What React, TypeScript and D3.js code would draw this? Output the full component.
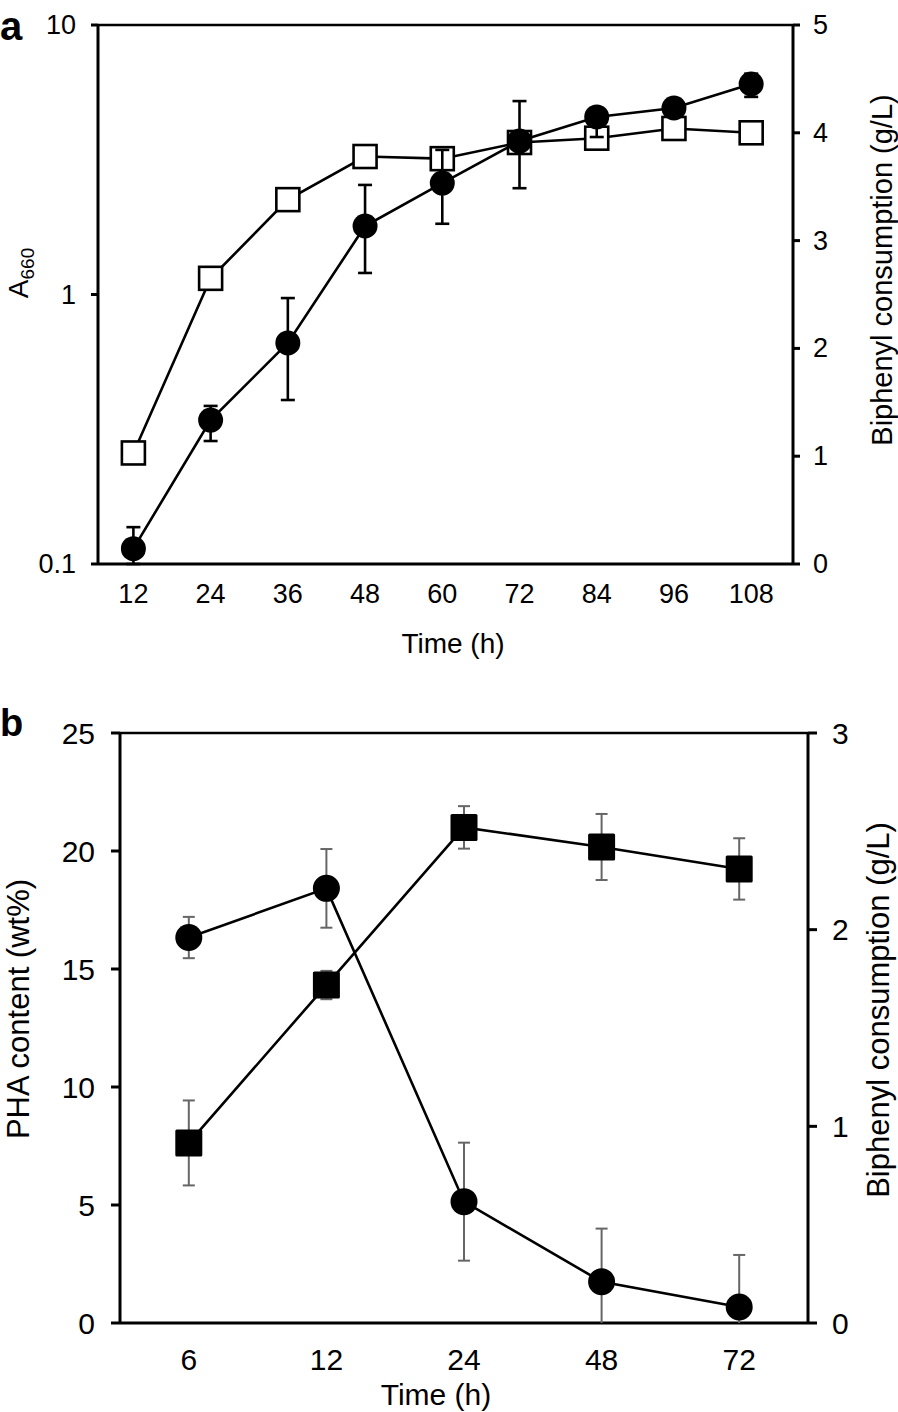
import React from "react";
import * as d3 from "d3";

// ---------- Panel a data ----------
const timesA = [12, 24, 36, 48, 60, 72, 84, 96, 108];
const timeTicksA = ["12", "24", "36", "48", "60", "72", "84", "96", "108"];
const a660 = [0.114, 0.342, 0.661, 1.795, 2.59, 3.71, 4.56, 4.92, 6.04];
const a660Upper = [0.137, 0.386, 0.97, 2.55, 3.44, 5.22, 4.9, 5.3, 6.6];
const a660Lower = [0.1, 0.286, 0.406, 1.202, 1.83, 2.48, 3.84, 4.6, 5.41];
const biphenylA = [1.03, 2.65, 3.38, 3.78, 3.76, 3.91, 3.95, 4.04, 4.0];
const leftTicksA = [0.1, 1, 10];
const leftTickLabelsA = ["0.1", "1", "10"];
const rightTicksA = [0, 1, 2, 3, 4, 5];

// ---------- Panel b data ----------
const timesB = ["6", "12", "24", "48", "72"];
const phaB = [7.63, 14.32, 21.0, 20.17, 19.24];
const phaErrB = [1.8, 0.6, 0.9, 1.4, 1.3];
const biphenylB = [1.96, 2.21, 0.617, 0.21, 0.081];
const biphenylErrB = [0.105, 0.2, 0.3, 0.27, 0.265];
const leftTicksB = [0, 5, 10, 15, 20, 25];
const rightTicksB = [0, 1, 2, 3];

const FONT = "'Liberation Sans', Arial, Helvetica, sans-serif";

function PanelA() {
  const L = 98, R = 793, T = 25, B = 564;
  const x = d3.scaleLinear().domain([6.5, 114.5]).range([L, R]);
  const yL = d3.scaleLog().domain([0.1, 10]).range([B, T]);
  const yR = d3.scaleLinear().domain([0, 5]).range([B, T]);
  const lineL = d3.line<number>().x((_, i) => x(timesA[i])).y((d) => yL(d));
  const lineR = d3.line<number>().x((_, i) => x(timesA[i])).y((d) => yR(d));
  const fs = 27;
  const cap = 7;
  const sq = 23;
  return (
    <g>
      <text x={0} y={40} fontFamily={FONT} fontWeight="bold" fontSize={40}>a</text>
      {/* frame */}
      <line x1={L} y1={T} x2={R} y2={T} stroke="#000" strokeWidth={2.5} />
      <line x1={L} y1={T} x2={L} y2={B} stroke="#000" strokeWidth={3} />
      <line x1={R} y1={T} x2={R} y2={B} stroke="#000" strokeWidth={3} />
      <line x1={L} y1={B} x2={R} y2={B} stroke="#000" strokeWidth={3} />
      {leftTicksA.map((t, i) => (
        <g key={"la" + i}>
          <line x1={L - 7} x2={L} y1={yL(t)} y2={yL(t)} stroke="#000" strokeWidth={3} />
          <text x={76} y={yL(t)} textAnchor="end" dominantBaseline="central" fontFamily={FONT} fontSize={fs}>{leftTickLabelsA[i]}</text>
        </g>
      ))}
      {rightTicksA.map((t, i) => (
        <g key={"ra" + i}>
          <line x1={R} x2={R + 7} y1={yR(t)} y2={yR(t)} stroke="#000" strokeWidth={3} />
          <text x={813} y={yR(t)} dominantBaseline="central" fontFamily={FONT} fontSize={fs}>{t}</text>
        </g>
      ))}
      {timesA.map((t, i) => (
        <text key={"xa" + i} x={x(t)} y={603} textAnchor="middle" fontFamily={FONT} fontSize={fs}>{timeTicksA[i]}</text>
      ))}
      <text x={453} y={653} textAnchor="middle" fontFamily={FONT} fontSize={28}>Time (h)</text>
      <text transform="translate(28,273) rotate(-90)" textAnchor="middle" fontFamily={FONT} fontSize={28}>
        A<tspan fontSize={19} dy={6}>660</tspan>
      </text>
      <text transform="translate(892,270) rotate(-90)" textAnchor="middle" fontFamily={FONT} fontSize={29}>Biphenyl consumption (g/L)</text>

      {/* squares: biphenyl consumption (right axis) */}
      <path d={lineR(biphenylA) || ""} fill="none" stroke="#000" strokeWidth={2.6} />
      {biphenylA.map((v, i) => (
        <rect key={"sa" + i} x={x(timesA[i]) - sq / 2} y={yR(v) - sq / 2} width={sq} height={sq} fill="#fff" stroke="#000" strokeWidth={2.6} />
      ))}
      {/* circles: A660 (left log axis) */}
      {a660.map((v, i) => {
        const cx = x(timesA[i]);
        const y1 = yL(a660Upper[i]);
        const y2 = Math.min(B, yL(a660Lower[i]));
        return (
          <g key={"ea" + i} stroke="#000" strokeWidth={2.6}>
            <line x1={cx} x2={cx} y1={y1} y2={y2} />
            <line x1={cx - cap} x2={cx + cap} y1={y1} y2={y1} />
            <line x1={cx - cap} x2={cx + cap} y1={y2} y2={y2} />
          </g>
        );
      })}
      <path d={lineL(a660) || ""} fill="none" stroke="#000" strokeWidth={2.6} />
      {a660.map((v, i) => (
        <circle key={"ca" + i} cx={x(timesA[i])} cy={yL(v)} r={12.5} fill="#000" />
      ))}
    </g>
  );
}

function PanelB() {
  const L = 120, R = 808, T = 733, B = 1323;
  const xb = d3.scaleBand<string>().domain(timesB).range([L, R]);
  const cx = (i: number) => (xb(timesB[i]) as number) + xb.bandwidth() / 2;
  const yL = d3.scaleLinear().domain([0, 25]).range([B, T]);
  const yR = d3.scaleLinear().domain([0, 3]).range([B, T]);
  const lineL = d3.line<number>().x((_, i) => cx(i)).y((d) => yL(d));
  const lineR = d3.line<number>().x((_, i) => cx(i)).y((d) => yR(d));
  const fs = 30;
  const cap = 6;
  const sq = 27;
  const errColor = "#666";
  return (
    <g>
      <text x={0} y={736} fontFamily={FONT} fontWeight="bold" fontSize={38}>b</text>
      <line x1={L} y1={T} x2={R} y2={T} stroke="#000" strokeWidth={2.5} />
      <line x1={L} y1={T} x2={L} y2={B} stroke="#000" strokeWidth={3} />
      <line x1={R} y1={T} x2={R} y2={B} stroke="#000" strokeWidth={3} />
      <line x1={L} y1={B} x2={R} y2={B} stroke="#000" strokeWidth={3} />
      {leftTicksB.map((t, i) => (
        <g key={"lb" + i}>
          <line x1={L - 9} x2={L} y1={yL(t)} y2={yL(t)} stroke="#000" strokeWidth={3} />
          <text x={95} y={yL(t)} textAnchor="end" dominantBaseline="central" fontFamily={FONT} fontSize={fs}>{t}</text>
        </g>
      ))}
      {rightTicksB.map((t, i) => (
        <g key={"rb" + i}>
          <line x1={R} x2={R + 9} y1={yR(t)} y2={yR(t)} stroke="#000" strokeWidth={3} />
          <text x={832} y={yR(t)} dominantBaseline="central" fontFamily={FONT} fontSize={fs}>{t}</text>
        </g>
      ))}
      {timesB.map((t, i) => (
        <text key={"xb" + i} x={cx(i)} y={1370} textAnchor="middle" fontFamily={FONT} fontSize={fs}>{t}</text>
      ))}
      <text x={436} y={1405} textAnchor="middle" fontFamily={FONT} fontSize={fs}>Time (h)</text>
      <text transform="translate(29,1009) rotate(-90)" textAnchor="middle" fontFamily={FONT} fontSize={31}>PHA content (wt%)</text>
      <text transform="translate(889,1010) rotate(-90)" textAnchor="middle" fontFamily={FONT} fontSize={31}>Biphenyl consumption (g/L)</text>

      {/* error bars */}
      {phaB.map((v, i) => {
        const y1 = yL(v + phaErrB[i]);
        const y2 = yL(Math.max(0, v - phaErrB[i]));
        return (
          <g key={"ep" + i} stroke={errColor} strokeWidth={2}>
            <line x1={cx(i)} x2={cx(i)} y1={y1} y2={y2} />
            <line x1={cx(i) - cap} x2={cx(i) + cap} y1={y1} y2={y1} />
            <line x1={cx(i) - cap} x2={cx(i) + cap} y1={y2} y2={y2} />
          </g>
        );
      })}
      {biphenylB.map((v, i) => {
        const lo = v - biphenylErrB[i];
        const y1 = yR(v + biphenylErrB[i]);
        const y2 = yR(Math.max(0, lo));
        return (
          <g key={"eb" + i} stroke={errColor} strokeWidth={2}>
            <line x1={cx(i)} x2={cx(i)} y1={y1} y2={y2} />
            <line x1={cx(i) - cap} x2={cx(i) + cap} y1={y1} y2={y1} />
            {lo > 0 && <line x1={cx(i) - cap} x2={cx(i) + cap} y1={y2} y2={y2} />}
          </g>
        );
      })}
      <path d={lineL(phaB) || ""} fill="none" stroke="#000" strokeWidth={2.6} />
      <path d={lineR(biphenylB) || ""} fill="none" stroke="#000" strokeWidth={2.6} />
      {phaB.map((v, i) => (
        <rect key={"sb" + i} x={cx(i) - sq / 2} y={yL(v) - sq / 2} width={sq} height={sq} rx={1.5} fill="#000" />
      ))}
      {biphenylB.map((v, i) => (
        <circle key={"cb" + i} cx={cx(i)} cy={yR(v)} r={13.5} fill="#000" />
      ))}
    </g>
  );
}

export default function App() {
  return (
    <svg
      width={898}
      height={1412}
      viewBox="0 0 898 1412"
      style={{ position: "absolute", left: 0, top: 0, background: "#fff", display: "block" }}
    >
      <rect x={0} y={0} width={898} height={1412} fill="#fff" />
      <PanelA />
      <PanelB />
    </svg>
  );
}
